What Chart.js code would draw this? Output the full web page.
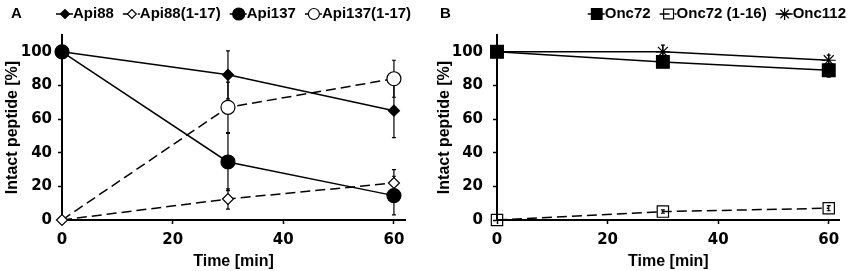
<!DOCTYPE html>
<html>
<head>
<meta charset="utf-8">
<script src="https://cdn.jsdelivr.net/npm/chart.js@4.4.1/dist/chart.umd.min.js"></script>
<style>
  html, body { margin: 0; padding: 0; background: #fff; }
  #wrap { position: relative; width: 850px; height: 271px; }
  .panel { position: absolute; top: 0; width: 425px; height: 271px; }
  #panelA { left: 0; }
  #panelB { left: 425px; }
</style>
</head>
<body>
<div id="wrap">
  <div class="panel" id="panelA"><canvas id="chartA" width="425" height="271"></canvas></div>
  <div class="panel" id="panelB"><canvas id="chartB" width="425" height="271"></canvas></div>
</div>
<script>
// Peptide stability: intact peptide (%) over incubation time

// Shared axes
const timePoints = [0, 30, 60];
const xTicks = [0, 20, 40, 60];
const yTicks = [0, 20, 40, 60, 80, 100];

// Panel A series (mean, error)
const api88 = [100, 86.3, 65];
const api88Err = [0, 14.3, 16];
const api88Frag = [0, 12.5, 22];
const api88FragErr = [0, 6, 8];
const api137 = [100, 34.5, 14.5];
const api137Err = [0, 17, 11.5];
const api137Frag = [0, 67, 84];
const api137FragErr = [0, 15, 11];

// Panel B series (mean, error)
const onc72 = [100, 94, 89];
const onc72Err = [0, 2, 4];
const onc72Frag = [0, 5, 7];
const onc72FragErr = [0, 1, 1.5];
const onc112 = [100, 100, 95];
const onc112Err = [0, 4, 3];

const TICK_FONT = { family: 'DejaVu Sans', weight: 'bold', size: 15 };
const TITLE_FONT = { family: 'Liberation Sans', weight: 'bold', size: 16 };

function points(values) {
    return timePoints.map((t, i) => ({ x: t, y: values[i] }));
}

function series(label, values, errors, style) {
    return Object.assign({
        label: label,
        data: points(values),
        errors: errors,
        borderColor: '#000',
        borderWidth: 1.5,
        pointBorderColor: '#000',
        pointBorderWidth: 1.2,
        tension: 0,
        fill: false,
        clip: false
    }, style);
}

// Vertical error bars drawn under the markers
const errorBars = {
    id: 'errorBars',
    beforeDatasetsDraw(chart) {
        const ctx = chart.ctx;
        const xs = chart.scales.x, ys = chart.scales.y;
        ctx.save();
        ctx.strokeStyle = '#000';
        ctx.lineWidth = 1.2;
        chart.data.datasets.forEach(ds => {
            if (!ds.errors) return;
            ds.data.forEach((p, i) => {
                const e = ds.errors[i];
                if (!e) return;
                const px = xs.getPixelForValue(p.x);
                const top = ys.getPixelForValue(p.y + e);
                const bot = ys.getPixelForValue(p.y - e);
                ctx.beginPath();
                ctx.moveTo(px, top); ctx.lineTo(px, bot);
                ctx.moveTo(px - 2, top); ctx.lineTo(px + 2, top);
                ctx.moveTo(px - 2, bot); ctx.lineTo(px + 2, bot);
                ctx.stroke();
            });
        });
        ctx.restore();
    }
};

// Legend with line + marker icons, plus the panel letter
const iconLegend = {
    id: 'iconLegend',
    afterDraw(chart, args, opts) {
        const ctx = chart.ctx;
        ctx.save();
        ctx.font = 'bold 15px "Liberation Sans", Arial, sans-serif';
        ctx.textBaseline = 'middle';
        ctx.textAlign = 'left';
        ctx.fillStyle = '#000';
        ctx.fillText(opts.letter, opts.letterX, opts.y);

        const iconW = 17;
        const items = chart.data.datasets.map(ds => ({ ds: ds, w: iconW + ctx.measureText(ds.label).width }));
        const total = items.reduce((s, it) => s + it.w, 0) + opts.gap * (items.length - 1);
        let x = opts.align === 'right' ? opts.x - total : opts.x;

        items.forEach(it => {
            const ds = it.ds;
            ctx.save();
            ctx.strokeStyle = '#000';
            ctx.lineWidth = 1.5;
            ctx.setLineDash(ds.borderDash || []);
            ctx.beginPath();
            ctx.moveTo(x, opts.y);
            ctx.lineTo(x + iconW, opts.y);
            ctx.stroke();
            ctx.setLineDash([]);
            ctx.fillStyle = ds.pointBackgroundColor;
            ctx.strokeStyle = '#000';
            ctx.lineWidth = ds.pointBorderWidth;
            Chart.helpers.drawPoint(ctx, {
                pointStyle: ds.pointStyle,
                radius: ds.legendRadius,
                rotation: 0,
                borderWidth: ds.pointBorderWidth
            }, x + 9, opts.y);
            ctx.restore();
            ctx.fillStyle = '#000';
            ctx.fillText(ds.label, x + iconW, opts.y);
            x += it.w + opts.gap;
        });
        ctx.restore();
    }
};

function makeChart(canvasId, datasets, layout, legendOpts) {
    const ctx = document.getElementById(canvasId).getContext('2d');
    return new Chart(ctx, {
        type: 'line',
        data: { datasets: datasets },
        plugins: [errorBars, iconLegend],
        options: {
            responsive: false,
            animation: false,
            events: [],
            layout: { padding: { left: 0, right: layout.right, top: 35, bottom: 0 } },
            scales: {
                x: {
                    type: 'linear',
                    min: 0,
                    max: 62,
                    afterBuildTicks: s => { s.ticks = xTicks.map(v => ({ value: v })); },
                    afterFit: s => { s.height = 51; s.paddingLeft = 0; s.paddingRight = 0; },
                    ticks: { color: '#000', font: TICK_FONT, padding: 7, maxRotation: 0 },
                    grid: { drawOnChartArea: false, drawTicks: true, tickLength: 4, tickColor: '#000', tickWidth: 1.5 },
                    border: { color: '#000', width: 2 },
                    title: { display: true, text: 'Time [min]', color: '#000', font: TITLE_FONT, padding: { top: 0, bottom: 0 } }
                },
                y: {
                    type: 'linear',
                    min: 0,
                    max: 110,
                    afterBuildTicks: s => { s.ticks = yTicks.map(v => ({ value: v })); },
                    afterFit: s => { s.width = layout.yWidth; s.paddingTop = 0; s.paddingBottom = 0; },
                    ticks: { color: '#000', font: TICK_FONT, padding: layout.tickPad },
                    grid: { drawOnChartArea: false, drawTicks: true, tickLength: 4, tickColor: '#000', tickWidth: 1.5 },
                    border: { color: '#000', width: 2 },
                    title: { display: true, text: 'Intact peptide [%]', color: '#000', font: TITLE_FONT, padding: { top: layout.titlePad, bottom: 0 } }
                }
            },
            plugins: {
                legend: { display: false },
                tooltip: { enabled: false },
                iconLegend: legendOpts
            }
        }
    });
}

makeChart('chartA', [
    series('Api88', api88, api88Err, { pointStyle: 'rectRot', pointRadius: 5.5, legendRadius: 4.5, pointBackgroundColor: '#000', order: 1 }),
    series('Api88(1-17)', api88Frag, api88FragErr, { pointStyle: 'rectRot', pointRadius: 5.5, legendRadius: 4.5, pointBackgroundColor: '#fff', borderDash: [10, 5], order: 2 }),
    series('Api137', api137, api137Err, { pointStyle: 'circle', pointRadius: 7, legendRadius: 6, pointBackgroundColor: '#000', order: 0 }),
    series('Api137(1-17)', api137Frag, api137FragErr, { pointStyle: 'circle', pointRadius: [0, 7, 7], legendRadius: 5.5, pointBackgroundColor: '#fff', borderDash: [10, 5], order: 3 })
], { right: 20, yWidth: 62, tickPad: 6, titlePad: 2.5 },
   { letter: 'A', letterX: 11, x: 56, y: 14, gap: 9, align: 'left' });

makeChart('chartB', [
    series('Onc72', onc72, onc72Err, { pointStyle: 'rect', pointRadius: 9, legendRadius: 7.5, pointBackgroundColor: '#000', order: 0 }),
    series('Onc72 (1-16)', onc72Frag, onc72FragErr, { pointStyle: 'rect', pointRadius: 8, legendRadius: 7, pointBackgroundColor: 'rgba(0,0,0,0)', borderDash: [10, 5], order: 1 }),
    series('Onc112', onc112, onc112Err, { pointStyle: 'star', pointRadius: 7, legendRadius: 6, pointBackgroundColor: '#000', order: 2 })
], { right: 10, yWidth: 72, tickPad: 10, titlePad: 10 },
   { letter: 'B', letterX: 15, x: 421, y: 14, gap: 9, align: 'right' });
</script>
</body>
</html>
